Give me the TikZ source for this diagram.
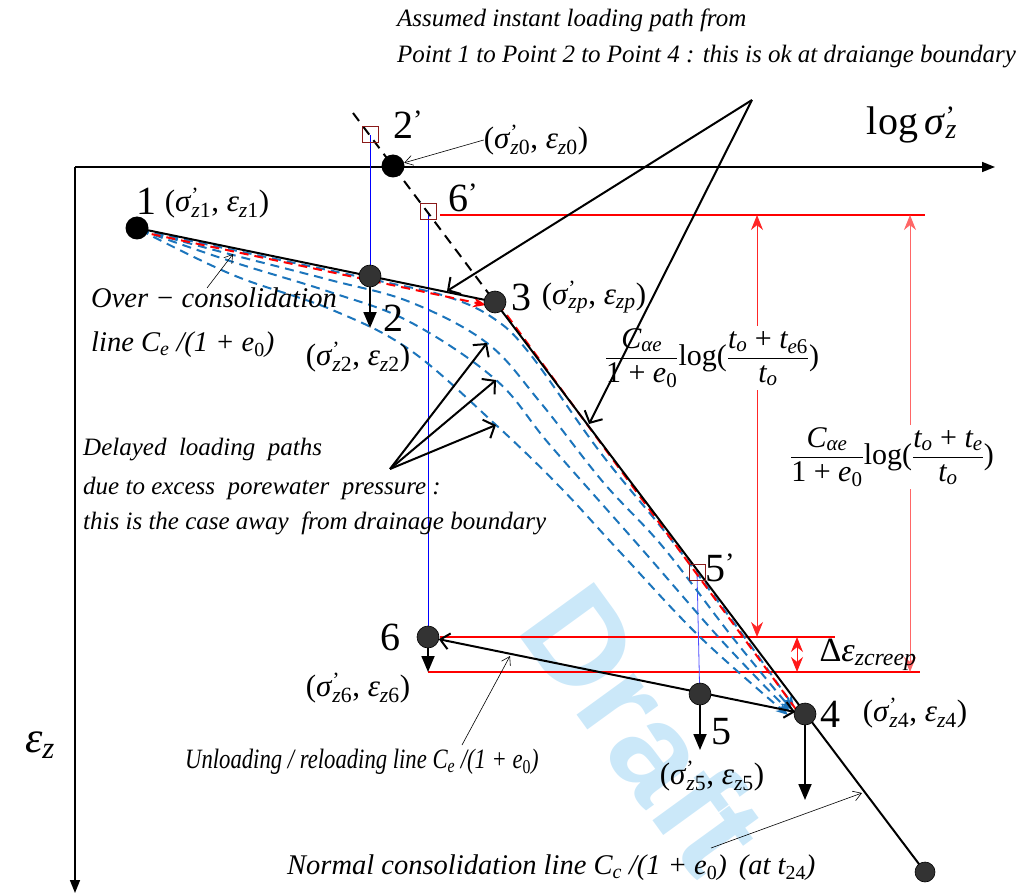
\documentclass[tikz,border=0pt]{standalone}
\usepackage{fontspec}
\setmainfont{Liberation Serif}
\newfontfamily\wmfont{Liberation Sans}
\usepackage{amsmath}
\usetikzlibrary{arrows.meta}
\definecolor{dred}{HTML}{8B1A1A}
\definecolor{cblue}{HTML}{1C75BC}
\definecolor{wmblue}{HTML}{CBE8F9}
\definecolor{dgray}{HTML}{333333}
\newcommand\pz[2]{(\textit{σ}\rlap{\textsuperscript{'}}\textsubscript{#1}, \textit{ε}\textsubscript{#2})}
\newcommand\zz[1]{\textit{z}#1}
\begin{document}
\begin{tikzpicture}[x=1pt,y=-1pt,
  axis/.style={line width=1.6pt,-{Triangle[length=13pt,width=10pt]}},
  mainln/.style={line width=2pt},
  pt/.style={circle,fill=dgray,draw=black,line width=0.6pt,minimum size=22pt,inner sep=0pt},
  ptb/.style={circle,fill=black,minimum size=23pt,inner sep=0pt},
  sbox/.style={draw=dred,line width=1pt,minimum size=16pt,inner sep=0pt},
  bluev/.style={blue,line width=0.8pt,-{Stealth[length=15pt,width=13pt,inset=6pt]}},
  downarr/.style={line width=1.8pt,-{Triangle[length=16pt,width=13pt]}},
  lead/.style={line width=2pt,-{Straight Barb[length=9pt,width=20pt]}},
  thinlead/.style={line width=0.6pt,-{Straight Barb[length=8pt,width=10pt]}},
  bdash/.style={cblue,line width=2pt,dash pattern=on 9pt off 6pt,-{Stealth[length=12pt,width=10pt]}},
  rdash/.style={red,line width=2pt,dash pattern=on 9pt off 6pt,-{Stealth[length=13pt,width=10pt]}},
  rline/.style={red,line width=2pt},
  rdim/.style={#1,line width=1pt,{Stealth[length=15pt,width=12pt]}-{Stealth[length=15pt,width=12pt]}},
  num/.style={font=\fontsize{40}{44}\selectfont,inner sep=0pt},
  co/.style={font=\fontsize{31}{34}\selectfont,inner sep=0pt},
  itx/.style={font=\itshape\fontsize{25}{29}\selectfont,inner sep=0pt,anchor=west},
  fml/.style={font=\fontsize{30}{34}\selectfont,fill=white,inner sep=2pt},
]
\useasboundingbox (0,0) rectangle (1023,896);
% watermark
\node[rotate=-54,text=wmblue,font=\wmfont\bfseries\fontsize{134}{134}\selectfont] (wm) at (645,728) {Draft};
% coordinates
\coordinate (O) at (75,167);
\coordinate (Xe) at (995,167);
\coordinate (Ye) at (75,893);
\coordinate (P1) at (137,228);
\coordinate (P2p) at (393,166);
\coordinate (P2) at (370,276);
\coordinate (P3) at (495,302);
\coordinate (P4) at (805,714);
\coordinate (P5) at (700,694);
\coordinate (P6) at (428,637);
\coordinate (Pe) at (925,872);
\coordinate (B2) at (370,135);
\coordinate (B6) at (428,212);
\coordinate (B5) at (697,572);
\coordinate (Ap) at (752,100);
\coordinate (D0) at (390,469);
\coordinate (Ds) at (353,113);
% red horizontals
\coordinate (Ra1) at (440,215); \coordinate (Ra2) at (925,215);
\coordinate (Rb1) at (440,637); \coordinate (Rb2) at (835,637);
\coordinate (Rc1) at (428,672); \coordinate (Rc2) at (920,672);
\draw[rline] (Ra1) -- (Ra2);
\draw[rline] (Rb1) -- (Rb2);
\draw[rline] (Rc1) -- (Rc2);
\draw[rdim=red!85] (757,215) -- (757,637);
\draw[rdim=red!60] (910,215) -- (910,672);
\draw[rdim=red!90] (797,637) -- (797,672);
% formulas
\node[fml] (fa) at (712,358) {$\displaystyle\frac{\text{\itshape C\textsubscript{αe}}}{\text{1 + \itshape e\textsubscript{\upshape 0}}}$log($\displaystyle\frac{\text{\itshape t\textsubscript{o} \upshape+ \itshape t\textsubscript{e\upshape 6}}}{\text{\itshape t\textsubscript{o}}}$)};
\node[fml] (fb) at (892,457) {$\displaystyle\frac{\text{\itshape C\textsubscript{αe}}}{\text{1 + \itshape e\textsubscript{\upshape 0}}}$log($\displaystyle\frac{\text{\itshape t\textsubscript{o} \upshape+ \itshape t\textsubscript{e}}}{\text{\itshape t\textsubscript{o}}}$)};
% axes
\draw[axis] (O) -- (Xe);
\draw[axis] (O) -- (Ye);
% blue verticals
\draw[bluev] (B2) -- ([yshift=-13pt]P2);
\draw[bluev] (B6) -- ([yshift=-12pt]P6);
\draw[bluev,blue!70] (B5) -- ([yshift=-12pt]P5);
% blue dashed delayed paths
\draw[bdash] plot[smooth,tension=0.6] coordinates {(140,230) (233,250) (370,279) (445,296) (493,318) (530,354) (600,452) (673,542) (745,638) (794,707)};
\draw[bdash] plot[smooth,tension=0.6] coordinates {(140,230) (233,255) (330,280) (410,302) (487,343) (540,402) (603,482) (663,547) (733,638) (792,710)};
\draw[bdash] plot[smooth,tension=0.6] coordinates {(140,230) (233,262) (330,292) (410,322) (496,380) (550,445) (640,547) (722,641) (790,712)};
\draw[bdash] plot[smooth,tension=0.6] coordinates {(140,230) (233,275) (330,309) (410,350) (496,425) (560,487) (620,552) (700,637) (788,715)};
% red dashed along the normal path
\draw[rdash] ([yshift=-3pt]P1) -- ([xshift=-9pt,yshift=-3pt]P3);
\draw[rdash] ([xshift=3pt,yshift=-1pt]P3) -- ([xshift=1pt,yshift=-9pt]P4);
% main black lines
\draw[mainln] (P1) -- (P3);
\draw[mainln] (P3) -- (Pe);
\draw[mainln,dash pattern=on 10pt off 7pt] (Ds) -- (P3);
% unloading / reloading
\draw[line width=2pt,{Straight Barb[length=9pt,width=16pt]}-{Straight Barb[length=9pt,width=16pt]},shorten <=11pt,shorten >=10pt] (P6) -- (P4);
% down arrows
\draw[downarr] (P2) -- ++(0,52);
\draw[downarr] (P6) -- ++(0,35);
\draw[downarr] (P5) -- ++(0,56);
\draw[downarr] (P4) -- ++(0,86);
% points
\node[ptb] (n1) at (P1) {};
\node[ptb] (n2p) at (P2p) {};
\node[pt] (n2) at (P2) {};
\node[pt] (n3) at (P3) {};
\node[pt] (n4) at (P4) {};
\node[pt] (n5) at (P5) {};
\node[pt] (n6) at (P6) {};
\node[pt,minimum size=20pt] (ne) at (Pe) {};
\node[sbox] (b2) at (B2) {};
\node[sbox] (b6) at (B6) {};
\node[sbox] (b5) at (B5) {};
% leaders
\draw[lead] (Ap) -- (447,291);
\draw[lead] (Ap) -- (589,424);
\draw[lead] (D0) -- (487,343);
\draw[lead] (D0) -- (496,380);
\draw[lead] (D0) -- (496,425);
% labels
\node[itx] (t1) at (397,20) {Assumed instant loading path from};
\node[itx] (t2) at (397,57) {Point 1 to Point 2 to Point 4 : this is ok at draiange boundary};
\node[num] (lx) at (912,125) {log\,\textit{σ}\rlap{\textsuperscript{'}}\textsubscript{\textit{z}}};
\node[font=\fontsize{44}{48}\selectfont,inner sep=0pt] (ly) at (40,745) {\textit{ε}\textsubscript{\textit{z}}};
\node[num] (l1) at (146,201) {1};
\node[co] (c1) at (217,203) {\pz{\zz1}{\zz1}};
\node[num] (l2p) at (408,125) {2\textsuperscript{'}};
\node[co] (c0) at (536,140) {\pz{\zz0}{\zz0}};
\draw[thinlead] (c0.west) -- (n2p);
\node[num] (l6p) at (463,198) {6\textsuperscript{'}};
\node[num] (l3) at (521,297) {3};
\node[co] (c3) at (594,297) {\pz{\textit{zp}}{\textit{zp}}};
\node[num] (l2) at (393,318) {2};
\node[co] (c2) at (358,357) {\pz{\zz2}{\zz2}};
\node[itx,font=\itshape\fontsize{28.5}{32}\selectfont] (oc1) at (91,298) {Over − consolidation};
\node[itx,font=\itshape\fontsize{28.5}{32}\selectfont] (oc2) at (91,345) {line C\textsubscript{e} /(1 + e\textsubscript{\upshape 0})};
\coordinate (ocl) at (233,254);
\draw[thinlead] (207,288) -- (ocl);
\node[itx] (dl1) at (83,450) {Delayed\ \ loading\ \ paths};
\node[itx] (dl2) at (83,488) {due to excess\ \ porewater\ \ pressure :};
\node[itx] (dl3) at (83,523) {this is the case away\ \ from drainage boundary};
\node[num] (l5p) at (720,568) {5\textsuperscript{'}};
\node[num] (l6) at (390,637) {6};
\node[co] (c6) at (358,688) {\pz{\zz6}{\zz6}};
\node[co,font=\fontsize{34}{38}\selectfont] (dc) at (868,655) {Δ\textit{ε}\textsubscript{\textit{zcreep}}};
\node[num] (l4) at (830,714) {4};
\node[co] (c4) at (915,713) {\pz{\zz4}{\zz4}};
\node[num] (l5) at (721,732) {5};
\node[co] (c5) at (712,776) {\pz{\zz5}{\zz5}};
\node[itx,font=\itshape\fontsize{28}{32}\selectfont,xscale=0.81] (ul) at (185,762) {Unloading / reloading line C\textsubscript{e} /(1 + e\textsubscript{\upshape 0})};
\draw[thinlead] (462,745) -- (510,656);
\node[itx,font=\itshape\fontsize{28.5}{32}\selectfont] (nl) at (287,868) {Normal consolidation line C\textsubscript{c} /(1 + e\textsubscript{\upshape 0})\hspace{12pt}(at t\textsubscript{\upshape 24})};
\draw[thinlead] (711,848) -- (862,793);
\end{tikzpicture}
\end{document}
